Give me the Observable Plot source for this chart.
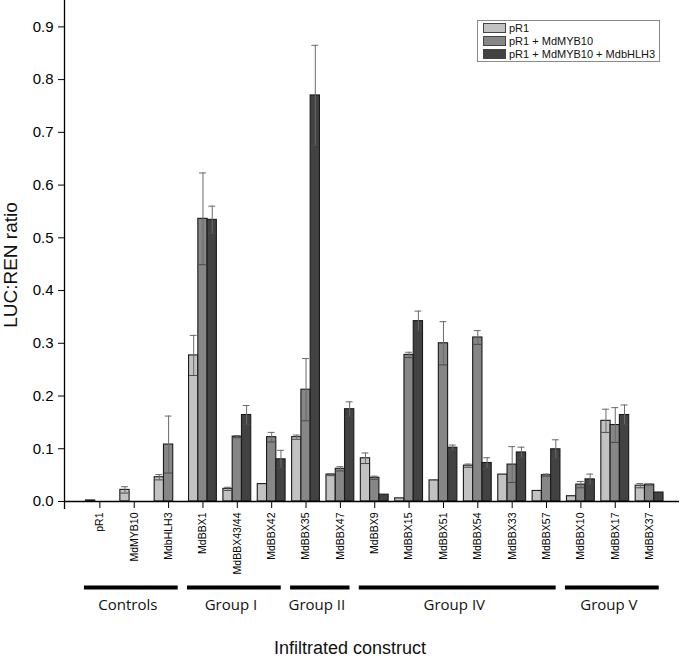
<!DOCTYPE html>
<html><head><meta charset="utf-8">
<script src="https://cdn.jsdelivr.net/npm/d3@7"></script>
<script src="https://cdn.jsdelivr.net/npm/@observablehq/plot@0.6"></script>
<style>
body{margin:0;background:#fff;}
#wrap{position:relative;width:685px;height:660px;font-family:"Liberation Sans",Arial,sans-serif;}
#legend{position:absolute;left:477px;top:20px;width:183px;height:42px;border:1px solid #8a8a8a;background:#fff;box-sizing:border-box;padding:1px 0 0 5px;}
.row{display:flex;align-items:center;height:12.8px;font-size:11px;color:#111;white-space:nowrap;}
.sw{width:23px;height:10px;border:1px solid #444;margin-right:3px;box-sizing:border-box;}
</style></head>
<body><div id="wrap"></div>
<script>
const categories = ["pR1","MdMYB10","MdbHLH3","MdBBX1","MdBBX43/44","MdBBX42","MdBBX35","MdBBX47","MdBBX9","MdBBX15","MdBBX51","MdBBX54","MdBBX33","MdBBX57","MdBBX10","MdBBX17","MdBBX37"];
const seriesNames = ["pR1","pR1 + MdMYB10","pR1 + MdMYB10 + MdbHLH3"];
const seriesColors = ["#c2c2c2","#868686","#424242"];

const pR1Values   = [0.002,0.022,0.046,0.277,0.024,0.033,0.122,0.051,0.082,0.006,0.040,0.068,0.051,0.020,0.010,0.153,0.030];
const pR1Errors   = [0,0.006,0.005,0.038,0.003,0,0.004,0.002,0.010,0,0,0.003,0,0,0,0.022,0.004];
const mybValues   = [0,0,0.108,0.536,0.123,0.122,0.212,0.062,0.045,0.278,0.300,0.311,0.070,0.050,0.032,0.145,0.032];
const mybErrors   = [0,0,0.054,0.087,0.002,0.009,0.059,0.004,0.003,0.005,0.041,0.013,0.034,0.002,0.006,0.033,0.001];
const bhlhValues  = [0,0,0,0.534,0.164,0.080,0.770,0.175,0.013,0.342,0.102,0.073,0.093,0.099,0.042,0.164,0.017];
const bhlhErrors  = [0,0,0,0.026,0.018,0.017,0.095,0.014,0,0.019,0.005,0.010,0.010,0.018,0.010,0.019,0];

const groupNames = ["Controls","Group I","Group II","Group IV","Group V"];
const groupFirst = [0,3,6,8,14];
const groupLast  = [2,5,7,13,16];

const yTicks = [0,0.1,0.2,0.3,0.4,0.5,0.6,0.7,0.8,0.9];

const allValues = [pR1Values, mybValues, bhlhValues];
const allErrors = [pR1Errors, mybErrors, bhlhErrors];
const barW = 0.27;
const rows = [];
categories.forEach((c, i) => allValues.forEach((vals, s) => {
  rows.push({cat: c, i, s, series: seriesNames[s], v: vals[i], e: allErrors[s][i],
    x1: i - 1.5 * barW + s * barW, x2: i - 0.5 * barW + s * barW, xc: i + (s - 1) * barW});
}));
const barRows = rows.filter(d => d.v > 0);
const errRows = barRows.filter(d => d.e > 0);
const groups = groupNames.map((n, k) => ({name: n, a: groupFirst[k] - 0.45, b: groupLast[k] + 0.28}));
const xDomain = [-1.03, 16.87];

const chart = Plot.plot({
  width: 685, height: 660,
  marginLeft: 64, marginRight: 6, marginTop: 0, marginBottom: 159,
  style: {fontFamily: "Liberation Sans, Arial, sans-serif", background: "white", color: "black", overflow: "visible"},
  x: {domain: xDomain, axis: null},
  y: {domain: [0, 0.95], axis: null},
  color: {domain: seriesNames, range: seriesColors},
  marks: [
    Plot.rect(barRows, {x1: "x1", x2: "x2", y1: 0, y2: "v", fill: "series", stroke: "#1a1a1a", strokeWidth: 1.1}),
    Plot.ruleX(errRows, {x: "xc", y1: d => d.v - d.e, y2: d => d.v + d.e, stroke: "#6a6a6a", strokeWidth: 1}),
    Plot.ruleY(errRows, {y: d => d.v + d.e, x1: d => d.xc - 0.1, x2: d => d.xc + 0.1, stroke: "#6a6a6a", strokeWidth: 1}),
    Plot.ruleY(errRows, {y: d => d.v - d.e, x1: d => d.xc - 0.12, x2: d => d.xc + 0.12, stroke: "#4a4a4a", strokeWidth: 1}),
    Plot.ruleY([0], {stroke: "black", strokeWidth: 1.3}),
    Plot.ruleX([xDomain[0]], {insetBottom: -8, stroke: "black", strokeWidth: 1.3}),
    Plot.axisY({ticks: yTicks, tickFormat: d3.format(".1f"), tickSize: 6, tickPadding: 5, fontSize: 15, label: null}),
    Plot.axisX({ticks: d3.range(categories.length), tickFormat: i => categories[i], tickRotate: -90, tickSize: 7, tickPadding: 4, fontSize: 10.5, label: null}),
    Plot.ruleY(groups, {x1: "a", x2: "b", y: 0, dy: 86, stroke: "black", strokeWidth: 4}),
    Plot.text(groups, {x: d => (d.a + d.b) / 2 - 0.1, text: "name", frameAnchor: "bottom", textAnchor: "middle", lineAnchor: "middle", dy: 104, fontSize: 15, fontFamily: "Open Sans, sans-serif", fill: "#111"}),
    Plot.text(["Infiltrated construct"], {frameAnchor: "bottom", textAnchor: "middle", lineAnchor: "middle", dx: -22, dy: 147, fontSize: 18, fill: "#111"}),
    Plot.text(["LUC:REN ratio"], {frameAnchor: "left", textAnchor: "middle", lineAnchor: "middle", rotate: -90, dx: -54, dy: 14, fontSize: 19, fill: "#111"})
  ]
});
const wrap = document.getElementById("wrap");
wrap.appendChild(chart);
const legend = document.createElement("div");
legend.id = "legend";
seriesNames.forEach((n, s) => {
  const r = document.createElement("div"); r.className = "row";
  const sw = document.createElement("span"); sw.className = "sw"; sw.style.background = seriesColors[s];
  const t = document.createElement("span"); t.textContent = n;
  r.appendChild(sw); r.appendChild(t); legend.appendChild(r);
});
wrap.appendChild(legend);
</script>
</body></html>
